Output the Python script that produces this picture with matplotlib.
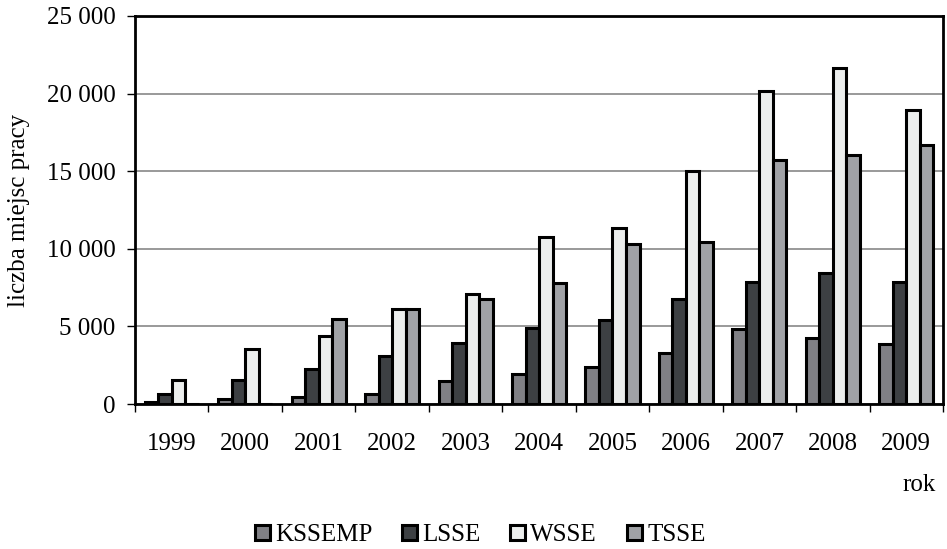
import numpy as np
import matplotlib
matplotlib.use('Agg')
import matplotlib.pyplot as plt
from matplotlib.ticker import FuncFormatter

years = ['1999', '2000', '2001', '2002', '2003', '2004',
         '2005', '2006', '2007', '2008', '2009']
kssemp = [150, 340, 430, 640, 1480, 1930, 2360, 3260, 4810, 4230, 3850]
lsse = [660, 1530, 2240, 3090, 3950, 4880, 5390, 6740, 7840, 8440, 7840]
wsse = [1550, 3540, 4360, 6100, 7070, 10780, 11320, 15030, 20190, 21630, 18940]
tsse = [0, 0, 5500, 6100, 6770, 7780, 10310, 10440, 15720, 16040, 16690]

series = [('KSSEMP', kssemp, '#808085'),
          ('LSSE', lsse, '#3d4043'),
          ('WSSE', wsse, '#eceeed'),
          ('TSSE', tsse, '#a0a2a6')]

plt.rcParams['font.family'] = ['Liberation Serif', 'DejaVu Serif']
fs = 18

fig = plt.figure(figsize=(9.47, 5.49), dpi=100)
ax = fig.add_axes([0.1426, 0.2641, 0.8532, 0.7068])

x = np.arange(len(years))
w = 0.184
for i, (name, vals, col) in enumerate(series):
    ax.bar(x + (i - 1.5) * w, vals, w, color=col, edgecolor='black',
           linewidth=2.2, label=name, zorder=3)

ax.set_xlim(-0.5, len(years) - 0.5)
ax.set_ylim(0, 25000)
ax.set_yticks(range(0, 25001, 5000))
ax.yaxis.set_major_formatter(FuncFormatter(
    lambda v, p: '{:,.0f}'.format(v).replace(',', ' ')))
ax.yaxis.grid(True, color='#888888', linewidth=1.2, zorder=0)

# year labels in the middle, tick marks on the group boundaries
ax.set_xticks(x)
ax.set_xticklabels(years)
ax.tick_params(axis='x', which='major', length=0, pad=21, labelsize=fs)
ax.set_xticks(np.arange(-0.5, len(years)), minor=True)
ax.tick_params(axis='x', which='minor', length=6, width=1, direction='out')
ax.tick_params(axis='y', length=6, width=1, direction='out', pad=8,
               labelsize=fs)

for s in ax.spines.values():
    s.set_linewidth(2)
    s.set_color('black')

ax.set_ylabel('liczba miejsc pracy', fontsize=fs, labelpad=12)
fig.text(0.988, 0.117, 'rok', fontsize=fs, ha='right', va='center')

ax.legend(loc='center', bbox_to_anchor=(0.507, 0.025),
          bbox_transform=fig.transFigure, ncol=4, frameon=False,
          fontsize=fs, handlelength=0.6, handleheight=0.6,
          handletextpad=0.2, columnspacing=1.2, borderaxespad=0)

fig.savefig('out.png', dpi=100)
